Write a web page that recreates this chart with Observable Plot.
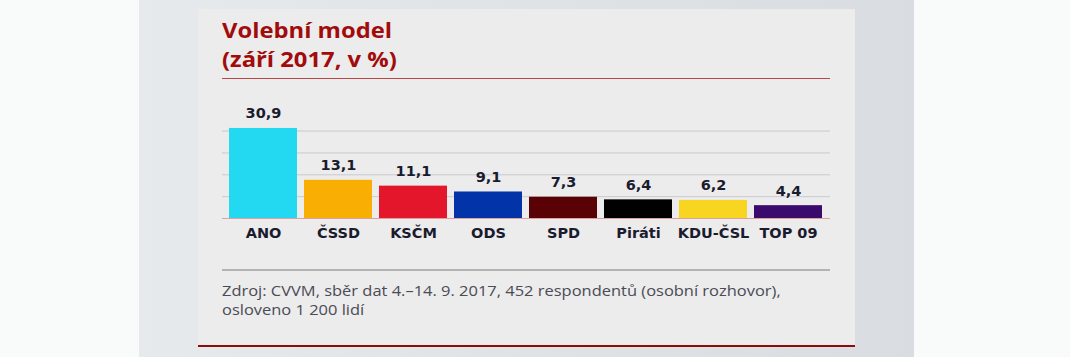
<!DOCTYPE html>
<html>
<head>
<meta charset="utf-8">
<script src="https://cdn.jsdelivr.net/npm/d3@7"></script>
<script src="https://cdn.jsdelivr.net/npm/@observablehq/plot@0.6"></script>
<style>
  html, body { margin: 0; padding: 0; }
  body { width: 1070px; height: 357px; background: #f9fafa; position: relative; overflow: hidden; font-family: "Open Sans", sans-serif; }
  #band { position: absolute; left: 139px; top: 0; width: 775px; height: 357px; background: linear-gradient(90deg, #e6eaed 0%, #dfe3e6 50%, #d9dde1 100%); }
  #card { position: absolute; left: 198px; top: 9px; width: 657px; height: 337px; background: #ececec; }
  #bottomline { position: absolute; left: 198px; top: 345px; width: 657px; height: 2px; background: #8c0c0c; }
  .title { position: absolute; left: 222px; color: #a20b0b; font-weight: bold; font-size: 20.5px; line-height: 1; white-space: nowrap; transform: scaleX(1.16); transform-origin: left top; }
  #title1 { top: 20px; }
  #title2 { top: 49px; }
  #titleline { position: absolute; left: 222px; top: 78px; width: 608px; height: 1px; background: #b8474a; }
  #chart { position: absolute; left: 198px; top: 90px; }
  #srcline { position: absolute; left: 222px; top: 269px; width: 608px; height: 1.5px; background: #b3b3b3; }
  .source { position: absolute; left: 222px; color: #4a4b55; font-size: 14.5px; line-height: 1; white-space: nowrap; transform: scaleX(1.135); transform-origin: left top; }
  #source1 { top: 284px; }
  #source2 { top: 303px; }
</style>
</head>
<body>
<div id="band"></div>
<div id="card"></div>
<div id="bottomline"></div>
<div class="title" id="title1">Volební model</div>
<div class="title" id="title2">(září 2017, v %)</div>
<div id="titleline"></div>
<div id="chart"></div>
<div id="srcline"></div>
<div class="source" id="source1">Zdroj: CVVM, sběr dat 4.–14. 9. 2017, 452 respondentů (osobní rozhovor),</div>
<div class="source" id="source2">osloveno 1 200 lidí</div>
<script>
const parties = ["ANO", "ČSSD", "KSČM", "ODS", "SPD", "Piráti", "KDU-ČSL", "TOP 09"];
const values = [30.9, 13.1, 11.1, 9.1, 7.3, 6.4, 6.2, 4.4];
const colors = ["#22d9f1", "#f8ae02", "#e3162b", "#0233a9", "#5a0106", "#010101", "#f8d520", "#3a0a6c"];
const gridTicks = [7.5, 15, 22.5, 30];

const data = parties.map((p, i) => ({party: p, value: values[i], color: colors[i]}));
const fmt = v => v.toFixed(1).replace(".", ",");

const chart = Plot.plot({
  width: 657,
  height: 160,
  marginLeft: 24,
  marginRight: 25,
  marginTop: 26,
  marginBottom: 32,
  style: {background: "transparent", fontFamily: "DejaVu Sans, sans-serif"},
  x: {domain: parties, padding: 0.088, axis: null},
  y: {domain: [0, 35], axis: null},
  marks: [
    Plot.ruleY(gridTicks, {stroke: "#c9c9d2", strokeWidth: 1}),
    Plot.barY(data, {x: "party", y: "value", fill: "color"}),
    Plot.ruleY([0], {stroke: "#e0a0a0", strokeWidth: 1}),
    Plot.text(data, {x: "party", y: "value", text: d => fmt(d.value), dy: -10, lineAnchor: "bottom", fontSize: 14.5, fontWeight: "bold", fill: "#1a1b2e"}),
    Plot.text(data, {x: "party", y: 0, text: "party", dy: 15, lineAnchor: "middle", fontSize: 14.5, fontWeight: "bold", fill: "#1a1b2e"})
  ]
});
document.getElementById("chart").appendChild(chart);
</script>
</body>
</html>
